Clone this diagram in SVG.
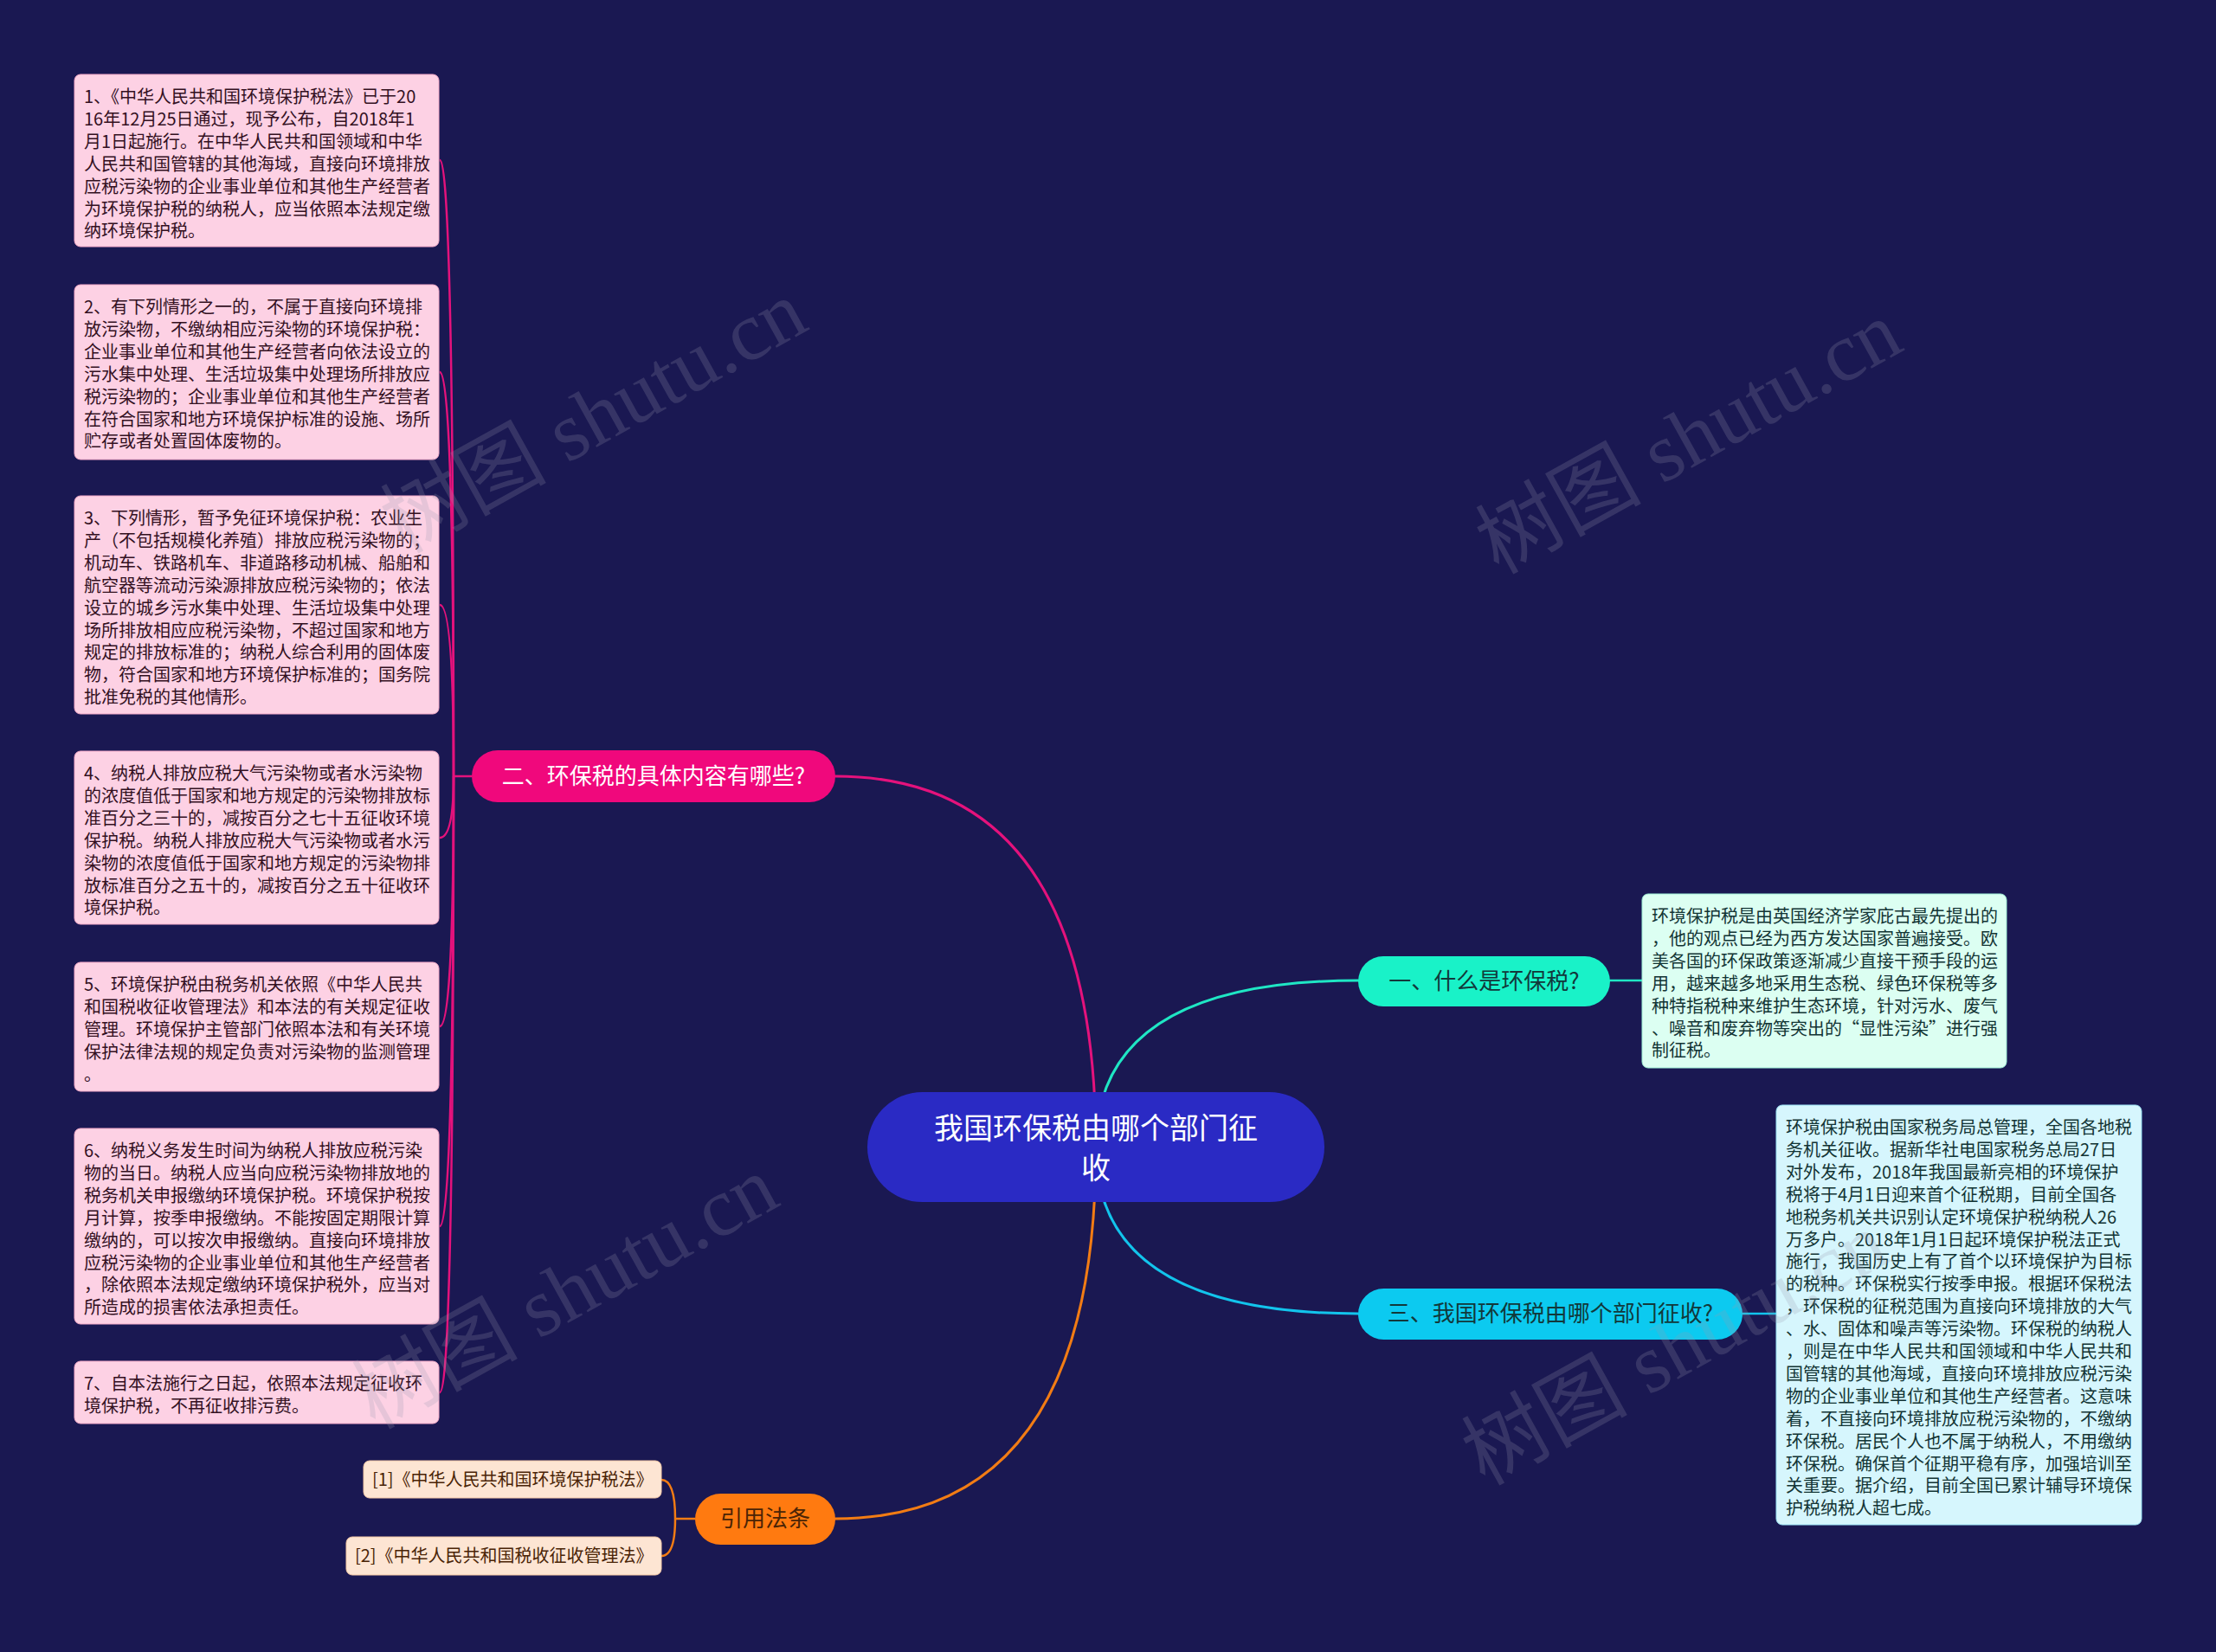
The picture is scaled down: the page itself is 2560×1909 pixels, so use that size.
<svg xmlns="http://www.w3.org/2000/svg" width="2560" height="1909" viewBox="0 0 2560 1909">
<style>
.bg{fill:#1a1852}
.t{font-family:"Noto Sans CJK SC","Liberation Sans",sans-serif}
.pbox{fill:#fdd1e4;stroke:#f3a9c8;stroke-width:1}
.ptxt{font-size:20px;fill:#33101f}
.tbox{fill:#dcfff2;stroke:#9ef0d4;stroke-width:1}
.cbox{fill:#d6f6fd;stroke:#9ae2f4;stroke-width:1}
.rtxt{font-size:20px;fill:#123434}
.obox{fill:#fde5d3;stroke:#f5c9a6;stroke-width:1}
.otxt{font-size:20px;fill:#4a2406}
.pill{font-size:26px}
.c{fill:none;stroke-linecap:round}
.wm{font-family:"Liberation Serif","Noto Sans CJK SC",serif;font-size:96px;fill:#9a9ab0;opacity:0.22}
</style>
<rect class="bg" x="0" y="0" width="2560" height="1909"/>

<g id="connectors">
  <path class="c" d="M1266 1326 Q1266 897 965 897" stroke="#e4127c" stroke-width="3"/>
  <path class="c" d="M1266 1326 Q1266 1133 1569 1133" stroke="#1fe6c4" stroke-width="3"/>
  <path class="c" d="M1266 1326 Q1266 1518 1569 1518" stroke="#12c4ec" stroke-width="3"/>
  <path class="c" d="M1266 1326 Q1266 1755 965 1755" stroke="#f27c14" stroke-width="3"/>
  <g stroke="#e4127c" stroke-width="2.5" fill="none">
    <path d="M545 897 L524 897"/>
    <path d="M524 897 Q524 185 508 185"/>
    <path d="M524 897 Q524 430 508 430"/>
    <path d="M524 897 Q524 699 508 699"/>
    <path d="M524 897 Q524 968 508 968"/>
    <path d="M524 897 Q524 1186 508 1186"/>
    <path d="M524 897 Q524 1417 508 1417"/>
    <path d="M524 897 Q524 1609 508 1609"/>
  </g>
  <path class="c" d="M1860 1133 L1897 1133" stroke="#1fe6c4" stroke-width="2.5"/>
  <path class="c" d="M2013 1518 L2052 1518" stroke="#12c4ec" stroke-width="2.5"/>
  <g stroke="#f27c14" stroke-width="2.5" fill="none">
    <path d="M803 1755 L780 1755"/>
    <path d="M780 1755 Q780 1710 764 1710"/>
    <path d="M780 1755 Q780 1798 764 1798"/>
  </g>
</g>

<g id="root">
  <rect x="1002" y="1262" width="528" height="127" rx="63.5" fill="#2a2ac4"/>
  <text class="t" font-size="34" fill="#ffffff" text-anchor="middle" x="1266" y="1316">我国环保税由哪个部门征<tspan x="1266" y="1362">收</tspan></text>
</g>

<g id="branch-2">
  <rect x="545" y="867" width="420" height="60" rx="30" fill="#f0087c"/>
  <text class="t pill" fill="#ffffff" text-anchor="middle" x="755" y="906">二、环保税的具体内容有哪些?</text>
</g>

<g id="branch-1">
  <rect x="1569" y="1105" width="291" height="58" rx="29" fill="#19f2c8"/>
  <text class="t pill" fill="#12383a" text-anchor="middle" x="1714.5" y="1143">一、什么是环保税?</text>
</g>

<g id="branch-3">
  <rect x="1569" y="1489" width="444" height="59" rx="29.5" fill="#0ccaf0"/>
  <text class="t pill" fill="#12383a" text-anchor="middle" x="1791" y="1527">三、我国环保税由哪个部门征收?</text>
</g>

<g id="branch-ref">
  <rect x="803" y="1726" width="162" height="59" rx="29.5" fill="#ff7a10"/>
  <text class="t pill" fill="#4a2406" text-anchor="middle" x="884" y="1764">引用法条</text>
</g>

<g id="item-1">
  <rect class="pbox" x="86" y="86" width="421" height="199" rx="7"/>
  <text class="t ptxt" x="97" y="119">1、《中华人民共和国环境保护税法》已于20<tspan x="97" dy="25.9">16年12月25日通过，现予公布，自2018年1</tspan><tspan x="97" dy="25.9">月1日起施行。在中华人民共和国领域和中华</tspan><tspan x="97" dy="25.9">人民共和国管辖的其他海域，直接向环境排放</tspan><tspan x="97" dy="25.9">应税污染物的企业事业单位和其他生产经营者</tspan><tspan x="97" dy="25.9">为环境保护税的纳税人，应当依照本法规定缴</tspan><tspan x="97" dy="25.9">纳环境保护税。</tspan></text>
</g>

<g id="item-2">
  <rect class="pbox" x="86" y="329" width="421" height="202" rx="7"/>
  <text class="t ptxt" x="97" y="362">2、有下列情形之一的，不属于直接向环境排<tspan x="97" dy="25.9">放污染物，不缴纳相应污染物的环境保护税：</tspan><tspan x="97" dy="25.9">企业事业单位和其他生产经营者向依法设立的</tspan><tspan x="97" dy="25.9">污水集中处理、生活垃圾集中处理场所排放应</tspan><tspan x="97" dy="25.9">税污染物的；企业事业单位和其他生产经营者</tspan><tspan x="97" dy="25.9">在符合国家和地方环境保护标准的设施、场所</tspan><tspan x="97" dy="25.9">贮存或者处置固体废物的。</tspan></text>
</g>

<g id="item-3">
  <rect class="pbox" x="86" y="573" width="421" height="252" rx="7"/>
  <text class="t ptxt" x="97" y="606">3、下列情形，暂予免征环境保护税：农业生<tspan x="97" dy="25.9">产（不包括规模化养殖）排放应税污染物的；</tspan><tspan x="97" dy="25.9">机动车、铁路机车、非道路移动机械、船舶和</tspan><tspan x="97" dy="25.9">航空器等流动污染源排放应税污染物的；依法</tspan><tspan x="97" dy="25.9">设立的城乡污水集中处理、生活垃圾集中处理</tspan><tspan x="97" dy="25.9">场所排放相应应税污染物，不超过国家和地方</tspan><tspan x="97" dy="25.9">规定的排放标准的；纳税人综合利用的固体废</tspan><tspan x="97" dy="25.9">物，符合国家和地方环境保护标准的；国务院</tspan><tspan x="97" dy="25.9">批准免税的其他情形。</tspan></text>
</g>

<g id="item-4">
  <rect class="pbox" x="86" y="868" width="421" height="200" rx="7"/>
  <text class="t ptxt" x="97" y="901">4、纳税人排放应税大气污染物或者水污染物<tspan x="97" dy="25.9">的浓度值低于国家和地方规定的污染物排放标</tspan><tspan x="97" dy="25.9">准百分之三十的，减按百分之七十五征收环境</tspan><tspan x="97" dy="25.9">保护税。纳税人排放应税大气污染物或者水污</tspan><tspan x="97" dy="25.9">染物的浓度值低于国家和地方规定的污染物排</tspan><tspan x="97" dy="25.9">放标准百分之五十的，减按百分之五十征收环</tspan><tspan x="97" dy="25.9">境保护税。</tspan></text>
</g>

<g id="item-5">
  <rect class="pbox" x="86" y="1112" width="421" height="149" rx="7"/>
  <text class="t ptxt" x="97" y="1145">5、环境保护税由税务机关依照《中华人民共<tspan x="97" dy="25.9">和国税收征收管理法》和本法的有关规定征收</tspan><tspan x="97" dy="25.9">管理。环境保护主管部门依照本法和有关环境</tspan><tspan x="97" dy="25.9">保护法律法规的规定负责对污染物的监测管理</tspan><tspan x="97" dy="25.9">。</tspan></text>
</g>

<g id="item-6">
  <rect class="pbox" x="86" y="1304" width="421" height="226" rx="7"/>
  <text class="t ptxt" x="97" y="1337">6、纳税义务发生时间为纳税人排放应税污染<tspan x="97" dy="25.9">物的当日。纳税人应当向应税污染物排放地的</tspan><tspan x="97" dy="25.9">税务机关申报缴纳环境保护税。环境保护税按</tspan><tspan x="97" dy="25.9">月计算，按季申报缴纳。不能按固定期限计算</tspan><tspan x="97" dy="25.9">缴纳的，可以按次申报缴纳。直接向环境排放</tspan><tspan x="97" dy="25.9">应税污染物的企业事业单位和其他生产经营者</tspan><tspan x="97" dy="25.9">，除依照本法规定缴纳环境保护税外，应当对</tspan><tspan x="97" dy="25.9">所造成的损害依法承担责任。</tspan></text>
</g>

<g id="item-7">
  <rect class="pbox" x="86" y="1573" width="421" height="72" rx="7"/>
  <text class="t ptxt" x="97" y="1606">7、自本法施行之日起，依照本法规定征收环<tspan x="97" dy="25.9">境保护税，不再征收排污费。</tspan></text>
</g>

<g id="detail-1">
  <rect class="tbox" x="1897" y="1033" width="421" height="201" rx="7"/>
  <text class="t rtxt" x="1908" y="1066">环境保护税是由英国经济学家庇古最先提出的<tspan x="1908" dy="25.9">，他的观点已经为西方发达国家普遍接受。欧</tspan><tspan x="1908" dy="25.9">美各国的环保政策逐渐减少直接干预手段的运</tspan><tspan x="1908" dy="25.9">用，越来越多地采用生态税、绿色环保税等多</tspan><tspan x="1908" dy="25.9">种特指税种来维护生态环境，针对污水、废气</tspan><tspan x="1908" dy="25.9">、噪音和废弃物等突出的“显性污染”进行强</tspan><tspan x="1908" dy="25.9">制征税。</tspan></text>
</g>

<g id="detail-3">
  <rect class="cbox" x="2052" y="1277" width="422" height="485" rx="7"/>
  <text class="t rtxt" x="2063" y="1310">环境保护税由国家税务局总管理，全国各地税<tspan x="2063" dy="25.9">务机关征收。据新华社电国家税务总局27日</tspan><tspan x="2063" dy="25.9">对外发布，2018年我国最新亮相的环境保护</tspan><tspan x="2063" dy="25.9">税将于4月1日迎来首个征税期，目前全国各</tspan><tspan x="2063" dy="25.9">地税务机关共识别认定环境保护税纳税人26</tspan><tspan x="2063" dy="25.9">万多户。2018年1月1日起环境保护税法正式</tspan><tspan x="2063" dy="25.9">施行，我国历史上有了首个以环境保护为目标</tspan><tspan x="2063" dy="25.9">的税种。环保税实行按季申报。根据环保税法</tspan><tspan x="2063" dy="25.9">，环保税的征税范围为直接向环境排放的大气</tspan><tspan x="2063" dy="25.9">、水、固体和噪声等污染物。环保税的纳税人</tspan><tspan x="2063" dy="25.9">，则是在中华人民共和国领域和中华人民共和</tspan><tspan x="2063" dy="25.9">国管辖的其他海域，直接向环境排放应税污染</tspan><tspan x="2063" dy="25.9">物的企业事业单位和其他生产经营者。这意味</tspan><tspan x="2063" dy="25.9">着，不直接向环境排放应税污染物的，不缴纳</tspan><tspan x="2063" dy="25.9">环保税。居民个人也不属于纳税人，不用缴纳</tspan><tspan x="2063" dy="25.9">环保税。确保首个征期平稳有序，加强培训至</tspan><tspan x="2063" dy="25.9">关重要。据介绍，目前全国已累计辅导环境保</tspan><tspan x="2063" dy="25.9">护税纳税人超七成。</tspan></text>
</g>

<g id="ref-1">
  <rect class="obox" x="420" y="1688" width="344" height="43" rx="7"/>
  <text class="t otxt" x="430" y="1717">[1]《中华人民共和国环境保护税法》</text>
</g>

<g id="ref-2">
  <rect class="obox" x="400" y="1776" width="364" height="44" rx="7"/>
  <text class="t otxt" x="410" y="1805">[2]《中华人民共和国税收征收管理法》</text>
</g>

<g id="watermarks">
  <text class="wm" text-anchor="middle" transform="translate(686 482) rotate(-29)" dy="32">树图 shutu.cn</text>
  <text class="wm" text-anchor="middle" transform="translate(1951 506) rotate(-29)" dy="32">树图 shutu.cn</text>
  <text class="wm" text-anchor="middle" transform="translate(653 1494) rotate(-29)" dy="32">树图 shutu.cn</text>
  <text class="wm" text-anchor="middle" transform="translate(1935 1559) rotate(-29)" dy="32">树图 shutu.cn</text>
</g>
</svg>
